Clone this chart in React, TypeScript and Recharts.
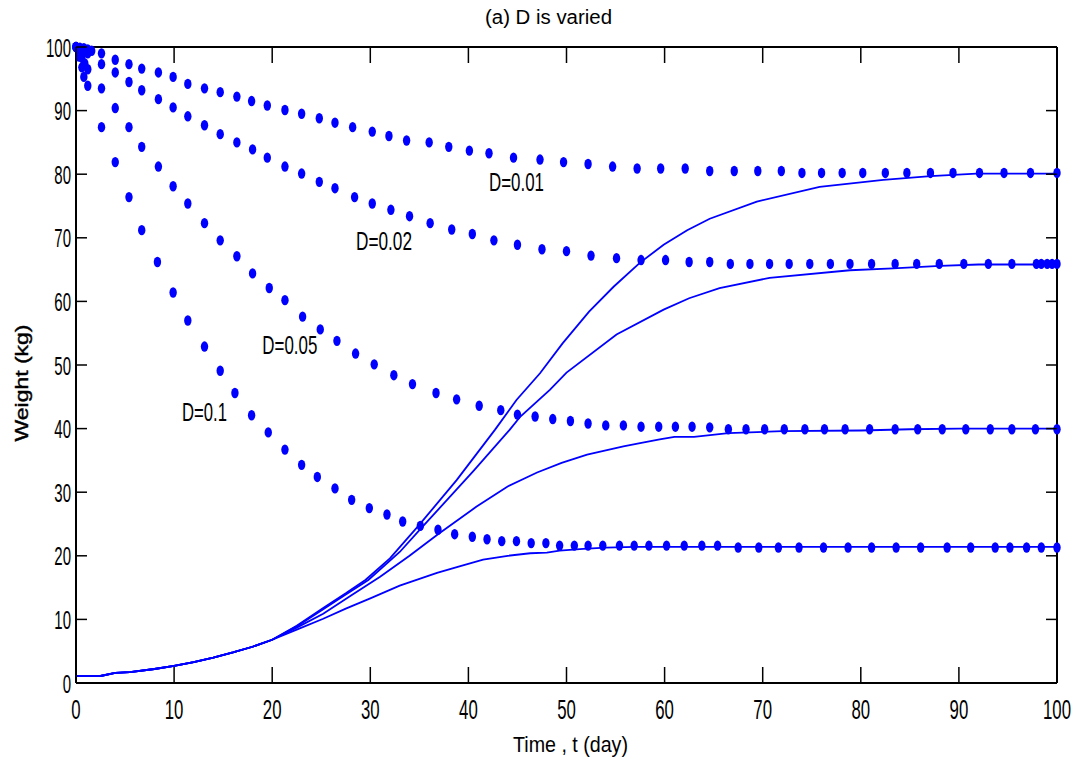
import { ComposedChart, Line, Scatter, XAxis, YAxis, ReferenceDot } from 'recharts';

const FONT = '"Liberation Sans", Arial, Helvetica, sans-serif';
const BLUE = '#0000ff';

const xTicks = [0, 10, 20, 30, 40, 50, 60, 70, 80, 90, 100];
const yTicks = [0, 10, 20, 30, 40, 50, 60, 70, 80, 90, 100];

// dotted series (numerical solution points), one time list per run
const dotT01 = [0, 0.4, 0.8, 1.2, 1.6, 2.6, 4.0, 5.4, 6.7, 8.4, 9.9, 11.4, 13.1, 14.7, 16.4, 17.9, 19.5, 21.3, 23.0, 24.8, 26.4, 28.2, 30.2, 31.9, 33.7, 36.0, 38.0, 40.1, 42.1, 44.6, 47.3, 49.7, 52.2, 54.7, 57.2, 59.6, 62.1, 64.6, 67.1, 69.5, 71.9, 74.0, 76.0, 78.1, 80.2, 82.5, 84.7, 87.1, 89.4, 92.1, 94.6, 97.3, 100];
const dotW01 = [100, 99.9, 99.8, 99.6, 99.4, 99.0, 98.0, 97.3, 96.6, 96.0, 95.3, 94.2, 93.5, 92.9, 92.2, 91.5, 90.8, 90.1, 89.5, 88.8, 88.1, 87.4, 86.7, 86.0, 85.3, 85.0, 84.3, 83.7, 83.3, 82.6, 82.3, 81.9, 81.6, 81.2, 80.9, 80.9, 80.9, 80.5, 80.5, 80.5, 80.5, 80.2, 80.2, 80.2, 80.2, 80.2, 80.2, 80.2, 80.2, 80.2, 80.2, 80.2, 80.2];

const dotT02 = [0, 0.4, 0.8, 1.2, 2.6, 4.0, 5.4, 6.7, 8.4, 9.9, 11.4, 13.1, 14.7, 16.4, 18.0, 19.5, 21.3, 23.0, 24.8, 26.4, 28.4, 30.2, 32.1, 34.0, 36.1, 38.3, 40.4, 42.6, 45.0, 47.5, 50.0, 52.5, 55.1, 57.6, 60.1, 62.5, 64.6, 66.7, 68.7, 70.7, 72.7, 74.8, 76.9, 78.9, 81.1, 83.5, 85.7, 88.0, 90.5, 93.0, 95.4, 97.9, 98.4, 99.0, 99.5, 100];
const dotW02 = [100, 99.7, 99.4, 99.0, 97.3, 96.0, 94.5, 93.2, 91.8, 90.5, 89.1, 87.7, 86.3, 85.0, 83.9, 82.6, 81.2, 80.1, 78.8, 77.8, 76.4, 75.4, 74.4, 73.4, 72.3, 71.3, 70.6, 69.6, 68.9, 68.2, 67.9, 67.2, 66.8, 66.5, 66.5, 66.2, 66.2, 65.9, 65.9, 65.9, 65.9, 65.9, 65.9, 65.9, 65.9, 65.9, 65.9, 65.9, 65.9, 65.9, 65.9, 65.9, 65.9, 65.9, 65.9, 65.9];

const dotT05 = [0, 0.3, 0.6, 0.9, 1.2, 2.6, 4.0, 5.4, 6.7, 8.4, 9.9, 11.4, 13.1, 14.7, 16.4, 18.0, 19.7, 21.3, 23.1, 24.9, 26.6, 28.5, 30.4, 32.4, 34.3, 36.7, 38.8, 41.1, 43.3, 45.0, 46.8, 48.6, 50.4, 52.2, 54.0, 55.8, 57.6, 59.4, 61.1, 62.8, 64.6, 66.5, 68.3, 70.2, 72.2, 74.3, 76.3, 78.4, 80.9, 83.5, 85.8, 88.3, 90.7, 93.2, 95.4, 97.8, 100];
const dotW05 = [100, 99.3, 98.3, 97.4, 96.5, 93.5, 90.4, 87.4, 84.3, 81.2, 78.1, 75.4, 72.3, 69.6, 67.1, 64.4, 62.1, 60.2, 57.6, 55.6, 53.8, 51.8, 50.1, 48.4, 47.0, 45.6, 44.6, 43.6, 42.9, 42.2, 41.9, 41.5, 41.2, 40.8, 40.5, 40.5, 40.3, 40.3, 40.3, 40.3, 40.2, 39.9, 39.9, 39.9, 39.9, 39.9, 39.9, 39.9, 39.9, 39.9, 39.9, 39.9, 39.9, 39.9, 39.9, 39.9, 39.9];

const dotT10 = [0, 0.3, 0.6, 0.8, 1.2, 2.6, 4.0, 5.4, 6.7, 8.3, 9.9, 11.4, 13.1, 14.7, 16.2, 17.9, 19.6, 21.3, 23.0, 24.6, 26.4, 28.1, 29.9, 31.7, 33.3, 35.1, 36.9, 38.6, 40.4, 41.9, 43.4, 44.9, 46.4, 47.9, 49.3, 50.8, 52.2, 53.7, 55.4, 56.9, 58.4, 60.2, 62.0, 63.8, 65.4, 67.5, 69.6, 71.6, 73.7, 76.2, 78.7, 81.1, 83.6, 86.1, 88.8, 91.2, 93.7, 95.2, 96.9, 98.4, 100];
const dotW10 = [100, 98.5, 96.8, 95.3, 93.9, 87.4, 81.9, 76.4, 71.2, 66.2, 61.4, 57.0, 52.9, 49.1, 45.6, 42.1, 39.4, 36.7, 34.3, 32.4, 30.6, 28.8, 27.5, 26.5, 25.4, 24.7, 24.1, 23.4, 23.0, 22.6, 22.3, 22.3, 22.0, 22.0, 21.6, 21.6, 21.6, 21.6, 21.6, 21.6, 21.6, 21.6, 21.6, 21.6, 21.6, 21.3, 21.3, 21.3, 21.3, 21.3, 21.3, 21.3, 21.3, 21.3, 21.3, 21.3, 21.3, 21.3, 21.3, 21.3, 21.3];

// solid growth curves, common early part then each run
const lineStartT = [0, 2.5, 4, 5.5, 8, 10, 12, 14, 16, 18, 20];
const lineStartW = [1.1, 1.1, 1.6, 1.7, 2.2, 2.7, 3.3, 4.0, 4.8, 5.7, 6.8];

const lineT01 = [22.5, 25.2, 27.5, 29.5, 32, 34.9, 38.8, 42.7, 44.9, 47.3, 49.6, 52.3, 54.8, 57.5, 59.9, 62.3, 64.6, 69.4, 75.8, 82.3, 87.1, 91.8, 100];
const lineW01 = [9.0, 11.8, 14.1, 16.2, 19.6, 24.7, 31.9, 39.8, 44.5, 48.7, 53.4, 58.4, 62.3, 66.1, 68.9, 71.2, 73.0, 75.7, 78.0, 79.1, 79.7, 80.1, 80.1];

const lineT02 = [22.5, 25.2, 27.5, 29.8, 33, 35.4, 40.5, 44.2, 45.3, 48.3, 50.0, 55.1, 59.9, 62.5, 65.6, 70.7, 78.9, 83.3, 88.1, 92, 100];
const lineW02 = [8.9, 11.6, 13.9, 16.2, 20.6, 24.7, 33.3, 39.8, 41.9, 46.1, 48.8, 54.8, 58.7, 60.5, 62.1, 63.7, 64.9, 65.2, 65.6, 65.8, 65.8];

const lineT05 = [22.5, 25.2, 28, 31, 34, 36.9, 40.8, 44, 47, 49.5, 52.1, 55.8, 57.5, 59.5, 61, 63, 66.5, 72, 80, 85, 90, 100];
const lineW05 = [8.7, 10.9, 13.7, 16.7, 20.0, 23.4, 27.7, 30.9, 33.1, 34.6, 35.9, 37.2, 37.7, 38.3, 38.7, 38.7, 39.3, 39.6, 39.7, 39.9, 40.0, 40.0];

const lineT10 = [22.5, 25.2, 27.5, 30, 33, 36.8, 39, 41.5, 44, 46.3, 48, 49.3, 51.7, 54, 57, 65, 75, 85, 100];
const lineW10 = [8.4, 10.1, 11.7, 13.3, 15.3, 17.3, 18.3, 19.4, 20.0, 20.4, 20.5, 20.8, 21.1, 21.3, 21.4, 21.4, 21.4, 21.4, 21.4];

const annoText = ['D=0.01', 'D=0.02', 'D=0.05', 'D=0.1'];
const annoT = [44.9, 31.4, 21.8, 13.1];
const annoW = [78.7, 69.5, 53.1, 42.6];
const annoLen = [55, 56, 55, 45];

const zip = (ts: number[], ws: number[]) => ts.map((t, i) => ({ t, w: ws[i] }));

const dotSeries = [zip(dotT01, dotW01), zip(dotT02, dotW02), zip(dotT05, dotW05), zip(dotT10, dotW10)];
const lineSeries = [
  zip([...lineStartT, ...lineT01], [...lineStartW, ...lineW01]),
  zip([...lineStartT, ...lineT02], [...lineStartW, ...lineW02]),
  zip([...lineStartT, ...lineT05], [...lineStartW, ...lineW05]),
  zip([...lineStartT, ...lineT10], [...lineStartW, ...lineW10]),
];

function BottomTick({ x, y, payload }: any) {
  return (
    <g>
      <line x1={x} y1={y} x2={x} y2={y - 16} stroke="#000" strokeWidth={1.5} />
      <text transform={`translate(${x},${y + 36}) scale(0.6,1)`} textAnchor="middle" fontSize={28} fontFamily={FONT} fill="#000">
        {payload.value}
      </text>
    </g>
  );
}

function LeftTick({ x, y, payload }: any) {
  return (
    <g>
      <line x1={x} y1={y} x2={x + 11} y2={y} stroke="#000" strokeWidth={1.5} />
      <text transform={`translate(${x - 5},${y + 9.5}) scale(0.6,1)`} textAnchor="end" fontSize={25} fontFamily={FONT} fill="#000">
        {payload.value}
      </text>
    </g>
  );
}

function TopTick({ x, y }: any) {
  return <line x1={x} y1={y} x2={x} y2={y + 16} stroke="#000" strokeWidth={1.5} />;
}

function RightTick({ x, y }: any) {
  return <line x1={x} y1={y} x2={x - 11} y2={y} stroke="#000" strokeWidth={1.5} />;
}

function DotShape(props: any) {
  return <ellipse cx={props.cx} cy={props.cy} rx={3.7} ry={5.2} fill={BLUE} />;
}

const annoLabel = (text: string, len: number) => (props: any) => {
  const vb = props.viewBox || {};
  const cx = vb.x + (vb.width || 0) / 2;
  const cy = vb.y + (vb.height || 0) / 2;
  return (
    <text x={cx} y={cy + 9} textAnchor="middle" fontSize={26} fontFamily={FONT} fill="#000" textLength={len} lengthAdjust="spacingAndGlyphs">
      {text}
    </text>
  );
};

const xLabel = (props: any) => {
  const vb = props.viewBox;
  return (
    <text x={vb.x + vb.width / 2 + 4} y={vb.y + 69} textAnchor="middle" fontSize={22} fontFamily={FONT} fill="#000" textLength={115} lengthAdjust="spacingAndGlyphs">
      Time , t (day)
    </text>
  );
};

const yLabel = () => (
  <text transform="translate(22,383) rotate(-90)" y={6} textAnchor="middle" fontSize={18} fontFamily={FONT} fill="#000" stroke="#000" strokeWidth={0.4} textLength={117} lengthAdjust="spacingAndGlyphs">
    Weight (kg)
  </text>
);

const titleLabel = (props: any) => {
  const vb = props.viewBox;
  return (
    <text x={vb.x + vb.width / 2 - 18} y={24} textAnchor="middle" fontSize={20} fontFamily={FONT} fill="#000" textLength={127} lengthAdjust="spacingAndGlyphs">
      (a) D is varied
    </text>
  );
};

export default function App() {
  return (
    <div style={{ position: 'absolute', left: 0, top: 0, width: 1084, height: 765, background: '#fff' }}>
      <ComposedChart width={1084} height={765} margin={{ top: 46, right: 26, bottom: 0, left: 0 }}>
        <XAxis
          dataKey="t"
          type="number"
          domain={[0, 100]}
          ticks={xTicks}
          height={82}
          tickSize={0}
          tickMargin={0}
          tickLine={false}
          tick={<BottomTick />}
          axisLine={{ stroke: '#000', strokeWidth: 2 }}
          interval={0}
          label={{ content: xLabel }}
        />
        <XAxis
          xAxisId="top"
          orientation="top"
          dataKey="t"
          type="number"
          domain={[0, 100]}
          ticks={xTicks}
          height={1}
          tickSize={0}
          tickMargin={0}
          tickLine={false}
          tick={<TopTick />}
          axisLine={{ stroke: '#000', strokeWidth: 2 }}
          interval={0}
          label={{ content: titleLabel }}
        />
        <YAxis
          type="number"
          domain={[0, 100]}
          ticks={yTicks}
          width={76}
          tickSize={0}
          tickMargin={0}
          tickLine={false}
          tick={<LeftTick />}
          axisLine={{ stroke: '#000', strokeWidth: 2 }}
          interval={0}
          label={{ content: yLabel }}
        />
        <YAxis
          yAxisId="right"
          orientation="right"
          type="number"
          domain={[0, 100]}
          ticks={yTicks}
          width={1}
          tickSize={0}
          tickMargin={0}
          tickLine={false}
          tick={<RightTick />}
          axisLine={{ stroke: '#000', strokeWidth: 2 }}
          interval={0}
        />
        <Line
          data={lineSeries[3]}
          xAxisId="top"
          yAxisId="right"
          dataKey="w"
          stroke="none"
          dot={false}
          activeDot={false}
          isAnimationActive={false}
        />
        {lineSeries.map((d, i) => (
          <Line
            key={`line-${i}`}
            data={d}
            dataKey="w"
            type="linear"
            stroke={BLUE}
            strokeWidth={1.8}
            dot={false}
            activeDot={false}
            isAnimationActive={false}
          />
        ))}
        {dotSeries.map((d, i) => (
          <Scatter key={`dots-${i}`} data={d} dataKey="w" shape={DotShape} isAnimationActive={false} />
        ))}
        {annoText.map((text, i) => (
          <ReferenceDot
            key={text}
            x={annoT[i]}
            y={annoW[i]}
            r={0}
            fill="none"
            stroke="none"
            label={{ content: annoLabel(text, annoLen[i]) }}
          />
        ))}
      </ComposedChart>
    </div>
  );
}
